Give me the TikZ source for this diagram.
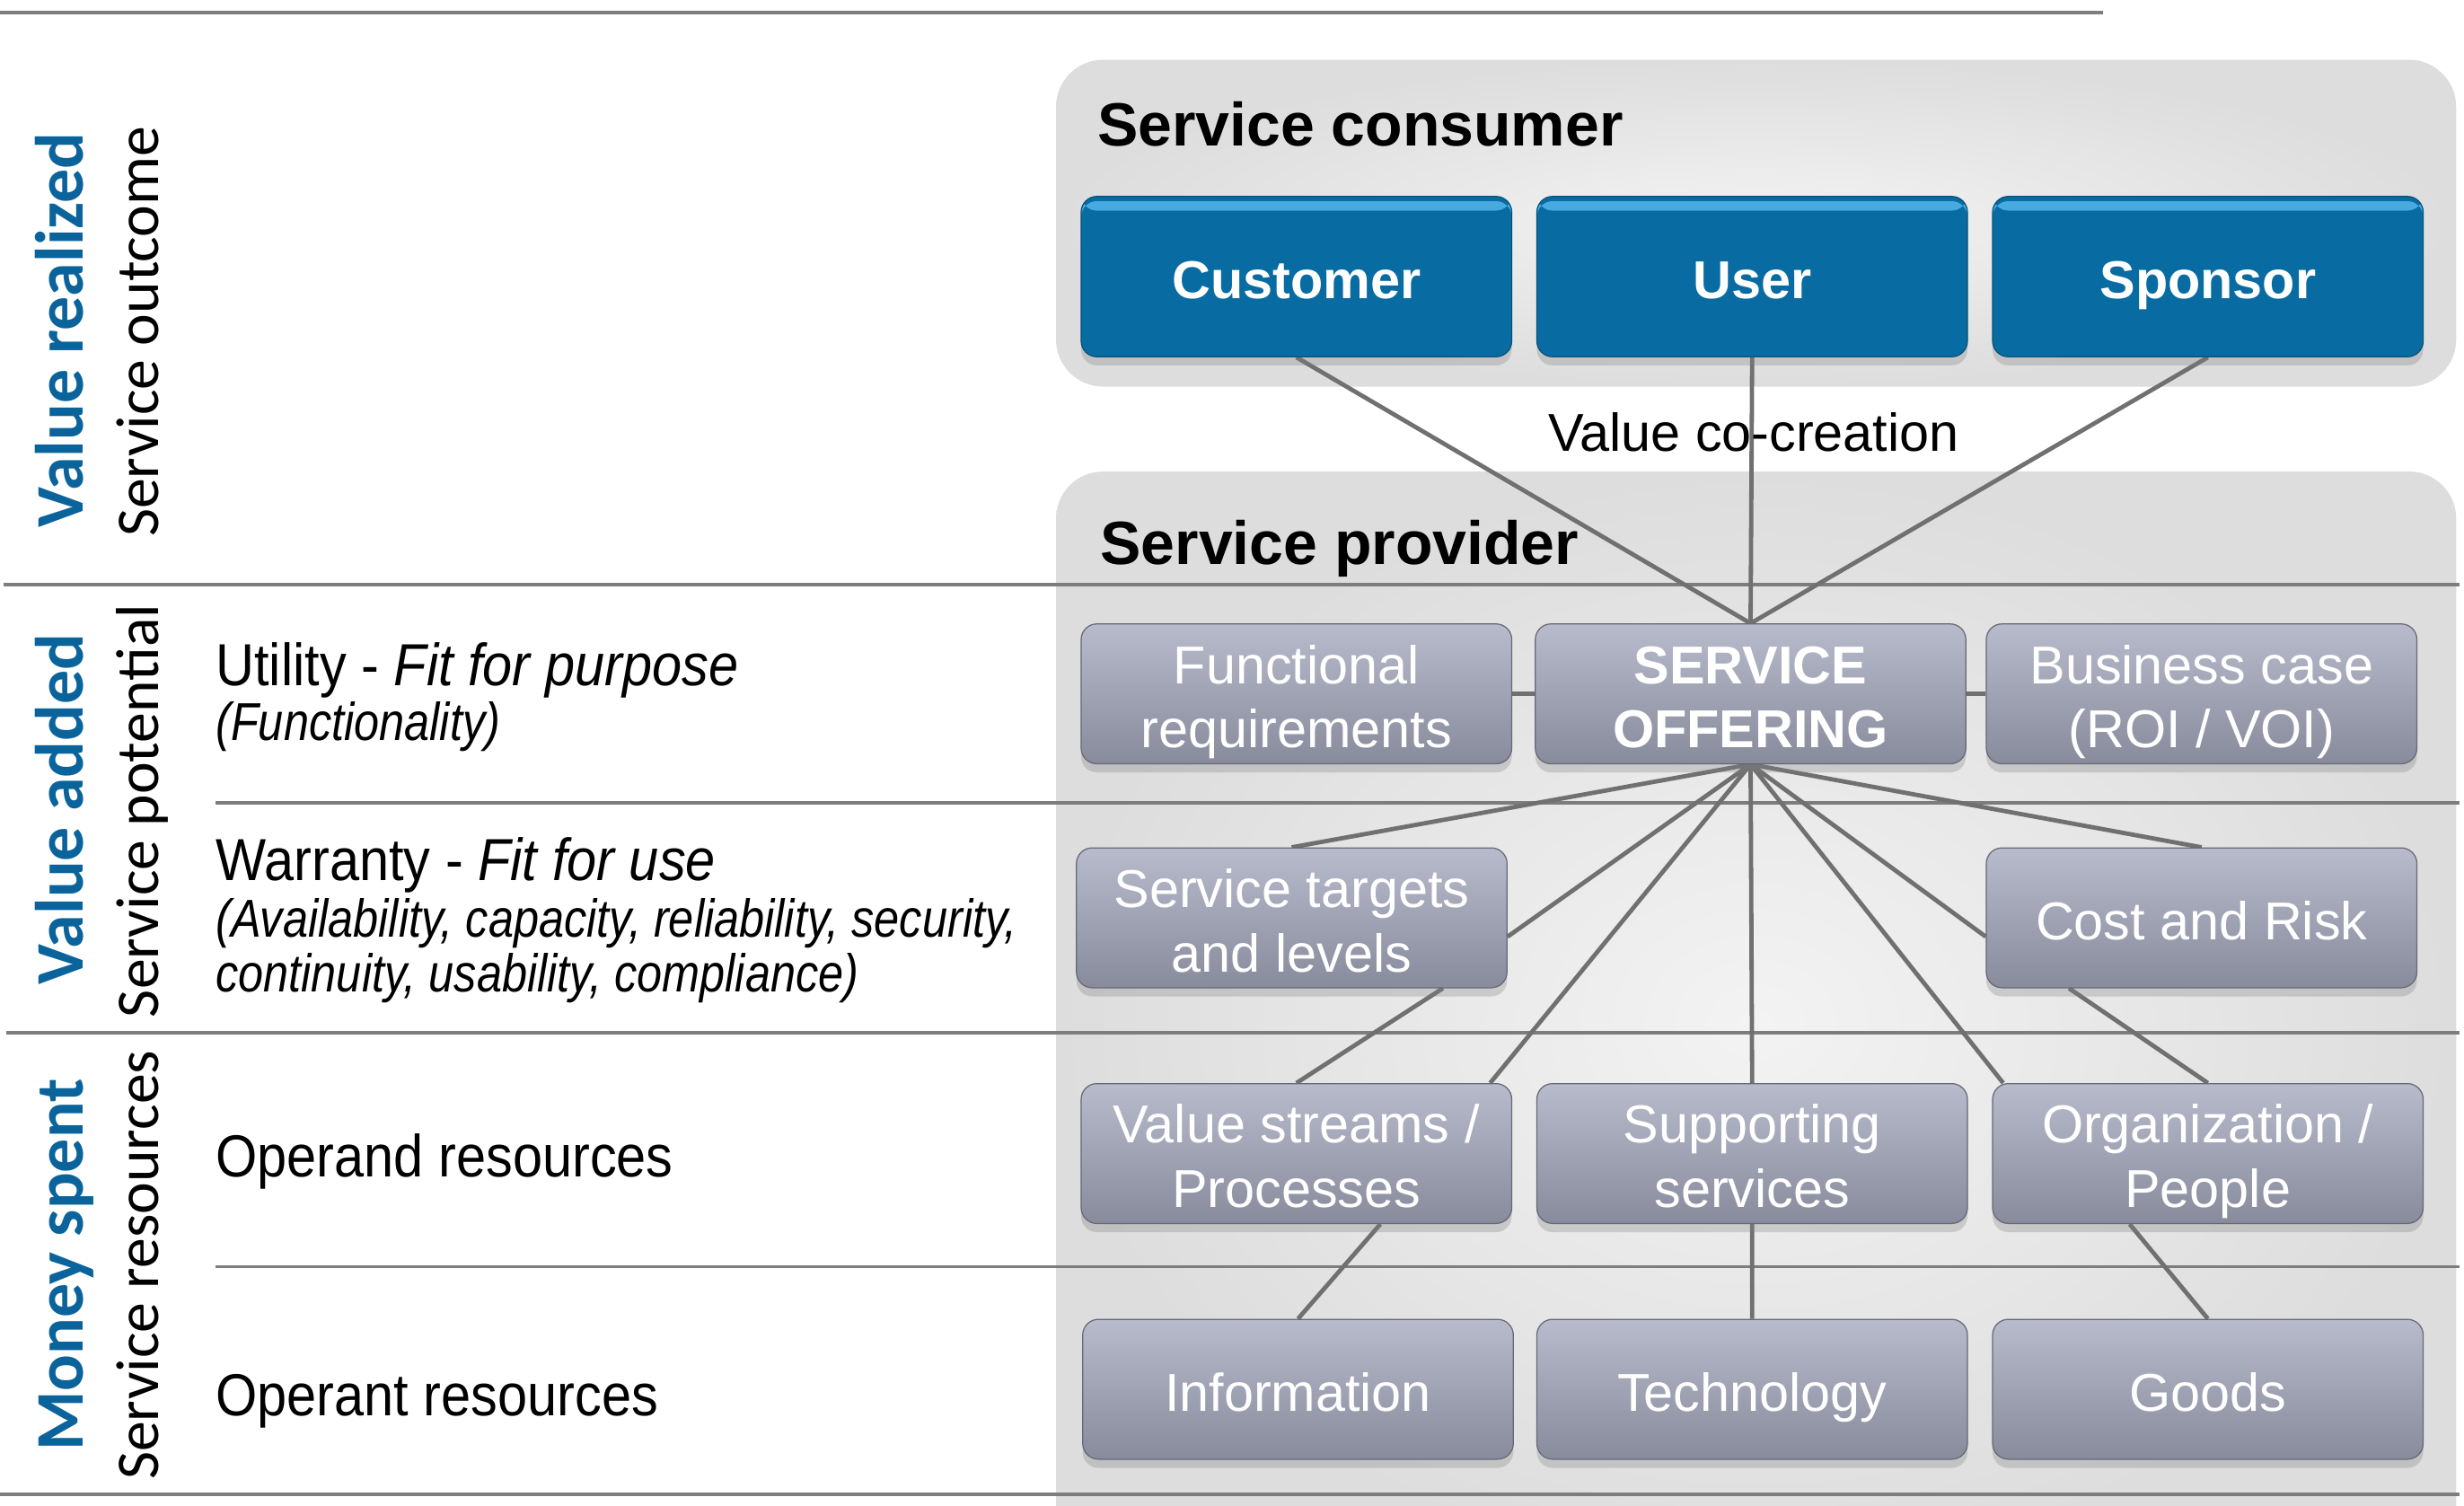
\documentclass[tikz,border=0pt]{standalone}
\usepackage{fontspec}
\setmainfont{Liberation Sans}
\newfontfamily\calibfont{Carlito}
\newfontfamily\condfont[FakeStretch=0.9]{Liberation Sans}
\newfontfamily\condsmallfont[FakeStretch=0.85]{Liberation Sans}
\usetikzlibrary{shadows}
\definecolor{bluebox}{RGB}{8,108,163}
\definecolor{bluehi}{RGB}{70,170,225}
\definecolor{labelblue}{RGB}{10,100,155}
\definecolor{greytop}{RGB}{184,187,203}
\definecolor{greybot}{RGB}{136,139,156}
\definecolor{panelin}{RGB}{243,243,243}
\definecolor{panelout}{RGB}{221,221,221}
\definecolor{rulegrey}{RGB}{125,125,125}
\definecolor{linkgrey}{RGB}{112,112,112}
\pgfdeclarelayer{panels}
\pgfdeclarelayer{links}
\pgfsetlayers{panels,links,main}

\begin{document}
\begin{tikzpicture}[x=0.2mm,y=-0.2mm,
  role/.style={rounded corners=2mm,fill=bluebox,draw=bluebox!75!black,minimum width=54.8mm,minimum height=20.4mm,inner sep=0pt,text=white,
    font=\fontsize{19.3}{23.3}\selectfont\bfseries,drop shadow={shadow xshift=0pt,shadow yshift=-1.1mm,opacity=.3},
    text height=20.8pt,text depth=5pt,
    path picture={\fill[bluehi] ([yshift=-.6mm]path picture bounding box.north west) rectangle ([yshift=-1.8mm]path picture bounding box.north east);}},
  part/.style={rounded corners=2mm,top color=greytop,bottom color=greybot,draw=greybot!75!black,minimum width=54.8mm,minimum height=17.8mm,inner sep=0pt,
    text=white,align=center,font=\fontsize{19.3}{23.3}\selectfont,drop shadow={shadow xshift=0pt,shadow yshift=-1.1mm,opacity=.3},
    text height=20.8pt,text depth=5pt},
  twoline/.style={text height=44.1pt},
  link/.style={draw=linkgrey,line width=.55mm},
  rule/.style={draw=rulegrey,line width=.45mm},
  side/.style={anchor=base,rotate=90,inner sep=0pt},
  plain/.style={anchor=base west,inner sep=0pt}]
\useasboundingbox (0,0) rectangle (1568,958);

\begin{pgfonlayer}{panels}
\shade[rounded corners=6mm,inner color=panelin,outer color=panelout] (672,38) rectangle (1563,246);
\shade[rounded corners=6mm,inner color=panelin,outer color=panelout] (672,300) rectangle (1563,1000);
\draw[rule] (0,8)--(1338,8) (2,372)--(1565,372) (137,511)--(1565,511) (4,657)--(1565,657) (137,806)--(1565,806) (0,951)--(1565,951);
\end{pgfonlayer}

\node[plain,font=\fontsize{22.1}{26}\selectfont\bfseries] (cons) at (698,93) {Service consumer};
\node[plain,font=\fontsize{22.1}{26}\selectfont\bfseries] (prov) at (700,359) {Service provider};
\node[anchor=base,inner sep=0pt,font=\fontsize{19.3}{23}\selectfont] (cocr) at (1116,287) {Value co-creation};

\node[role] (cust) at (825,176) {Customer};
\node[role] (user) at (1115,176) {User};
\node[role] (spons) at (1405,176) {Sponsor};

\node[part,twoline] (func) at (825,441.5) {Functional\\requirements};
\node[part,twoline,font=\fontsize{19.3}{23.3}\selectfont\bfseries] (offer) at (1114,441.5) {SERVICE\\OFFERING};
\node[part,twoline] (bcase) at (1401,441.5) {Business case\\(ROI / VOI)};
\node[part,twoline] (targ) at (822,584) {Service targets\\and levels};
\node[part] (cost) at (1401,584) {Cost and Risk};
\node[part,twoline] (vstream) at (825,734) {Value streams /\\Processes};
\node[part,twoline] (supp) at (1115,734) {Supporting\\services};
\node[part,twoline] (org) at (1405,734) {Organization /\\People};
\node[part] (info) at (826,884) {Information};
\node[part] (tech) at (1115,884) {Technology};
\node[part] (goods) at (1405,884) {Goods};

\begin{pgfonlayer}{links}
\draw[link] (cust.south)--(offer.north) (user.south)--(offer.north) (spons.south)--(offer.north);
\draw[link] (func.east)--(offer.west) (offer.east)--(bcase.west);
\draw[link] (offer.south)--(targ.north) (offer.south)--(targ.-5) (offer.south)--(vstream.20) (offer.south)--(supp.north);
\draw[link] (offer.south)--(org.161) (offer.south)--(cost.185) (offer.south)--(cost.north);
\draw[link] (targ.-25)--(vstream.north) (cost.208)--(org.north);
\draw[link] (vstream.-40)--(info.north) (supp.south)--(tech.north) (org.222)--(goods.north);
\end{pgfonlayer}

\node[side,text=labelblue,font=\calibfont\fontsize{24.7}{28}\selectfont\bfseries] (vreal) at (53,210) {Value realized};
\node[side,font=\calibfont\fontsize{22}{26}\selectfont] (sout) at (101,211) {Service outcome};
\node[side,text=labelblue,font=\calibfont\fontsize{24.7}{28}\selectfont\bfseries] (vadd) at (53,515) {Value added};
\node[side,font=\calibfont\fontsize{22}{26}\selectfont] (spot) at (101,516) {Service potential};
\node[side,text=labelblue,font=\calibfont\fontsize{24.7}{28}\selectfont\bfseries] (mspent) at (53,805) {Money spent};
\node[side,font=\calibfont\fontsize{22}{26}\selectfont] (sres) at (101,805) {Service resources};

\node[plain,font=\condfont\fontsize{21.5}{26}\selectfont] (util) at (137,436) {Utility - \textit{Fit for purpose}};
\node[plain,font=\condsmallfont\fontsize{19.3}{23}\selectfont\itshape] (ufunc) at (137,471) {(Functionality)};
\node[plain,font=\condfont\fontsize{21.5}{26}\selectfont] (warr) at (137,560) {Warranty - \textit{Fit for use}};
\node[plain,font=\condsmallfont\fontsize{19.3}{23}\selectfont\itshape] (wlist) at (137,596) {(Availability, capacity, reliability, security,};
\node[plain,font=\condsmallfont\fontsize{19.3}{23}\selectfont\itshape] (wlist2) at (137,631) {continuity, usability, compliance)};
\node[plain,font=\condfont\fontsize{21.5}{26}\selectfont] (oprd) at (137,749) {Operand resources};
\node[plain,font=\condfont\fontsize{21.5}{26}\selectfont] (oprt) at (137,901) {Operant resources};
\end{tikzpicture}
\end{document}
